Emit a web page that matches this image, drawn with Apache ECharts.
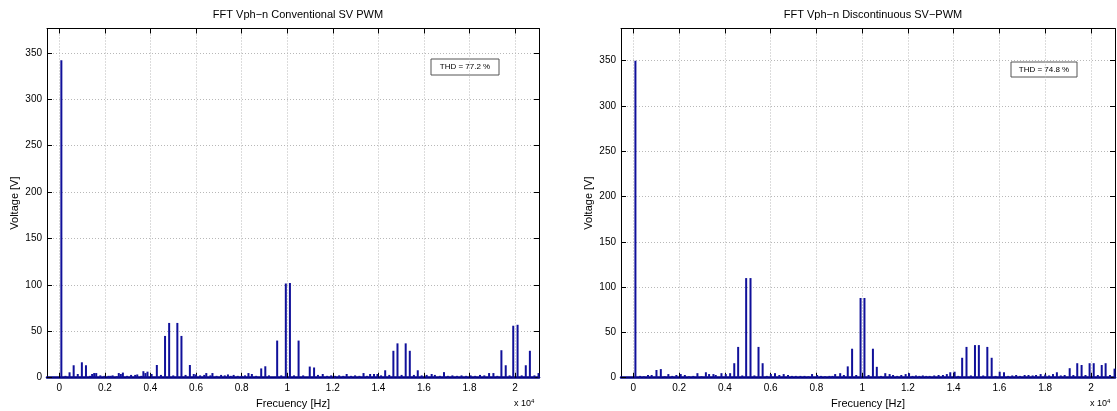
<!DOCTYPE html>
<html>
<head>
<meta charset="utf-8">
<script src="https://cdn.jsdelivr.net/npm/echarts@6/dist/echarts.min.js"></script>
<style>
  html, body { margin: 0; padding: 0; background: #fff; }
  #main { width: 1117px; height: 411px; }
</style>
</head>
<body>
<div id="main"></div>
<script>
// frequency ticks (Hz), shown as x 10^4
var freqTicks = [0, 2000, 4000, 6000, 8000, 10000, 12000, 14000, 16000, 18000, 20000];

// conventional SV PWM spectrum: frequency [Hz] / amplitude [V]
var convFreq = [90, 270, 450, 630, 810, 990, 1170, 1350, 1440, 1530, 1620, 1800, 1980, 2160, 2250, 2340, 2520,
  2610, 2700, 2790, 2970, 3150, 3330, 3420, 3600, 3690, 3780, 3870, 4050, 4280, 4460, 4640, 4820, 5000,
  5180, 5360, 5540, 5730, 5900, 6000, 6180, 6360, 6450, 6630, 6720, 6900, 7100, 7260, 7400, 7520, 7650,
  7830, 8000, 8150, 8300, 8450, 8640, 8860, 9040, 9200, 9560, 9740, 9940, 10120, 10300, 10500, 10700,
  10990, 11180, 11350, 11560, 11750, 11930, 12100, 12280, 12460, 12610, 12800, 12980, 13170, 13350, 13500,
  13640, 13810, 13960, 14120, 14300, 14480, 14660, 14840, 15020, 15200, 15380, 15560, 15730, 15900, 16120,
  16340, 16480, 16700, 16880, 17050, 17250, 17450, 17650, 17850, 18050, 18250, 18460, 18650, 18860, 19050,
  19220, 19400, 19590, 19760, 19920, 20110, 20290, 20470, 20650, 20850, 21030];
var convAmp = [342, 2, 5.8, 13.4, 4, 16.6, 13.4, 2, 4, 5, 5, 2.5, 2, 2, 2, 2.5, 1.5,
  5, 4, 5.5, 2, 3, 3, 3.5, 2, 7, 5, 6.5, 4, 13.7, 3, 45, 59, 2.5,
  59, 45, 3, 13.7, 4, 3.5, 2.5, 3, 5, 2.5, 5, 2, 3, 2.5, 3.5, 2, 3,
  2, 2, 2.5, 5, 4, 2, 10, 12.3, 2.5, 40, 2.5, 101.5, 102, 2.5, 40, 2.5,
  12, 11, 3, 4, 2, 2.5, 2, 2.5, 2, 4, 2, 2.5, 2, 5, 2,
  4, 4, 4, 2.5, 8, 3, 29, 37, 3, 37, 29, 3, 8, 2.5, 3,
  4, 3, 2, 6, 2, 2.5, 2, 2.5, 2, 2.5, 2, 3, 2.5, 5, 5,
  2, 29.6, 13.4, 2.5, 56, 57, 2.5, 13.4, 29, 2.5, 5];

// discontinuous SV-PWM spectrum
var discFreq = [90, 290, 460, 640, 800, 1010, 1200, 1370, 1530, 1700, 1880, 2070, 2250, 2430, 2620, 2800,
  2980, 3170, 3310, 3500, 3600, 3850, 4040, 4230, 4410, 4580, 4760, 4930, 5120, 5290, 5470, 5650, 5830,
  6010, 6190, 6380, 6570, 6760, 6930, 7100, 7300, 7480, 7650, 7810, 8030, 8200, 8380, 8570, 8700, 8820,
  9040, 9200, 9370, 9560, 9740, 9930, 10100, 10280, 10470, 10640, 10820, 11010, 11200, 11350, 11530,
  11710, 11900, 12050, 12200, 12350, 12500, 12650, 12800, 12950, 13150, 13340, 13530, 13700, 13850, 14040,
  14200, 14370, 14560, 14750, 14930, 15100, 15290, 15470, 15660, 15830, 16010, 16200, 16380, 16560, 16730,
  16900, 17100, 17270, 17450, 17600, 17800, 18000, 18170, 18340, 18510, 18680, 18850, 19070, 19230, 19400,
  19590, 19760, 19940, 20120, 20300, 20470, 20640, 20830, 21030];
var discAmp = [350, 2, 1.5, 3, 3, 8.5, 9.5, 1.5, 4, 2, 3, 4, 3, 1.5, 2, 5,
  1.5, 6, 4, 4, 3, 5, 4, 5, 16, 34, 2.5, 110, 110, 2.5, 34, 16, 2,
  4, 5, 3, 4, 3, 2, 2, 2, 2, 1.5, 4, 3, 2, 1.5, 2, 2, 4,
  5, 3, 12.5, 32, 3, 88, 88, 3, 32, 12, 2, 5, 4, 3, 2,
  3, 4, 5, 2, 2.5, 2, 2.5, 2, 2, 2.5, 3, 3, 4, 6, 6.6,
  2, 22, 34, 2.5, 36, 36, 2.5, 34, 22, 2, 6.6, 6, 2, 2.5, 3,
  2, 3, 3, 2.5, 3, 4, 3.5, 2.5, 4, 6, 2.5, 3, 10.5, 3, 16,
  14, 3, 16, 16, 3, 14, 16, 3, 10];

var titles = ['FFT Vph\u2212n Conventional SV PWM', 'FFT Vph\u2212n Discontinuous SV\u2212PWM'];
var thdText = ['THD = 77.2 %', 'THD = 74.8 %'];

function pairs(f, a) {
  return f.map(function (v, i) { return [v, a[i]]; });
}

var font = 'Liberation Sans, Arial, sans-serif';
var xMin = -540, xMax = 21050;
var grids = [
  { left: 47, width: 492, top: 28.5, height: 349.2, outerBoundsMode: 'none', containLabel: false },
  { left: 621, width: 494, top: 28.5, height: 349.2, outerBoundsMode: 'none', containLabel: false }
];
var yMax = [376.2, 385.6];

var chart = echarts.init(document.getElementById('main'));

var xAxes = [], yAxes = [], series = [], titleList = [], graphics = [];
grids.forEach(function (g, i) {
  // bottom axis
  xAxes.push({
    type: 'value', gridIndex: i, min: xMin, max: xMax, position: 'bottom',
    axisLine: { onZero: false, lineStyle: { color: '#000080', width: 2.5 } },
    axisTick: { inside: true, length: 5, customValues: freqTicks, lineStyle: { color: '#000' } },
    axisLabel: {
      customValues: freqTicks, color: '#000', fontSize: 10, fontFamily: font, margin: 6,
      formatter: function (v) { return String(parseFloat((v / 10000).toFixed(1))); }
    },
    splitLine: { show: true, lineStyle: { color: '#b8b8b8', type: [1, 2], width: 1 } },
    name: 'Frecuency [Hz]', nameLocation: 'middle', nameGap: 14,
    nameTextStyle: { color: '#000', fontSize: 11, fontFamily: font }
  });
  // top mirror axis
  xAxes.push({
    type: 'value', gridIndex: i, min: xMin, max: xMax, position: 'top',
    axisLine: { onZero: false, lineStyle: { color: '#000', width: 1 } },
    axisTick: { inside: true, length: 5, customValues: freqTicks, lineStyle: { color: '#000' } },
    axisLabel: { show: false }, splitLine: { show: false }
  });
  yAxes.push({
    type: 'value', gridIndex: i, min: 0, max: yMax[i], interval: 50, position: 'left',
    axisLine: { show: true, onZero: false, lineStyle: { color: '#000', width: 1 } },
    axisTick: { inside: true, length: 5, lineStyle: { color: '#000' } },
    axisLabel: {
      color: '#000', fontSize: 10, fontFamily: font, margin: 5, showMaxLabel: false
    },
    splitLine: { show: true, lineStyle: { color: '#b8b8b8', type: [1, 2], width: 1 } },
    name: 'Voltage [V]', nameLocation: 'middle', nameGap: 27, nameRotate: 90,
    nameTextStyle: { color: '#000', fontSize: 11, fontFamily: font }
  });
  yAxes.push({
    type: 'value', gridIndex: i, min: 0, max: yMax[i], interval: 50, position: 'right',
    axisLine: { show: true, onZero: false, lineStyle: { color: '#000', width: 1 } },
    axisTick: { inside: true, length: 5, lineStyle: { color: '#000' } },
    axisLabel: { show: false }, splitLine: { show: false }
  });
  titleList.push({
    text: titles[i], left: g.left + g.width / 2, top: 4, textAlign: 'center',
    textStyle: { color: '#000', fontSize: 11, fontWeight: 'normal', fontFamily: font }
  });
  series.push({
    type: 'bar', xAxisIndex: i * 2, yAxisIndex: i * 2, barWidth: 2,
    data: pairs(i === 0 ? convFreq : discFreq, i === 0 ? convAmp : discAmp),
    itemStyle: { color: '#10109a' }, silent: true, animation: false
  });
});

// THD boxes and x10^4 multipliers
graphics.push(
  { type: 'rect', shape: { x: 431, y: 59, width: 68, height: 16 }, style: { fill: '#fff', stroke: '#555', lineWidth: 1 } },
  { type: 'text', x: 465, y: 67, style: { text: thdText[0], fontSize: 8, fontFamily: font, fill: '#000', align: 'center', verticalAlign: 'middle' } },
  { type: 'rect', shape: { x: 1011, y: 62, width: 66, height: 15 }, style: { fill: '#fff', stroke: '#555', lineWidth: 1 } },
  { type: 'text', x: 1044, y: 69.5, style: { text: thdText[1], fontSize: 8, fontFamily: font, fill: '#000', align: 'center', verticalAlign: 'middle' } },
  { type: 'text', x: 514, y: 398, style: { text: 'x 10{s|4}', fontSize: 9, fontFamily: font, fill: '#000', rich: { s: { fontSize: 6, verticalAlign: 'top', padding: [0, 0, 6, 0] } } } },
  { type: 'text', x: 1090, y: 398, style: { text: 'x 10{s|4}', fontSize: 9, fontFamily: font, fill: '#000', rich: { s: { fontSize: 6, verticalAlign: 'top', padding: [0, 0, 6, 0] } } } }
);

var option = {
  backgroundColor: '#fff',
  animation: false,
  title: titleList,
  grid: grids,
  xAxis: xAxes,
  yAxis: yAxes,
  series: series,
  graphic: graphics
};
chart.setOption(option);
</script>
</body>
</html>
